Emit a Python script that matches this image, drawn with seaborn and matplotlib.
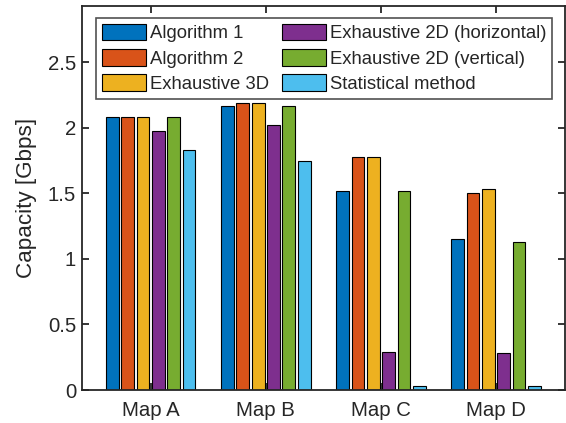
import matplotlib
matplotlib.use("Agg")
import matplotlib.pyplot as plt
import seaborn as sns
import pandas as pd

maps = ["Map A", "Map B", "Map C", "Map D"]
methods = ["Algorithm 1", "Algorithm 2", "Exhaustive 3D",
           "Exhaustive 2D (horizontal)", "Exhaustive 2D (vertical)", "Statistical method"]
algorithm1 = [2.08, 2.17, 1.52, 1.15]
algorithm2 = [2.08, 2.19, 1.78, 1.50]
exhaustive3d = [2.08, 2.19, 1.78, 1.53]
exhaustive2d_h = [1.98, 2.02, 0.29, 0.28]
exhaustive2d_v = [2.08, 2.17, 1.52, 1.13]
statistical = [1.83, 1.75, 0.03, 0.03]
yticks = [0, 0.5, 1, 1.5, 2, 2.5]
ytick_labels = ["0", "0.5", "1", "1.5", "2", "2.5"]

colors = ["#0072BD", "#D95319", "#EDB120", "#7E2F8E", "#77AC30", "#4DBEEE"]

series = [algorithm1, algorithm2, exhaustive3d, exhaustive2d_h, exhaustive2d_v, statistical]
rows = []
for m, vals in zip(methods, series):
    for mp, v in zip(maps, vals):
        rows.append({"Map": mp, "Method": m, "Capacity": v})
df = pd.DataFrame(rows)

sns.set_style("white")
plt.rcParams["font.family"] = ["Liberation Sans", "DejaVu Sans"]

fig = plt.figure(figsize=(5.66, 4.23), dpi=100)
ax = fig.add_axes([81.7 / 566, 33 / 423, (565 - 81.7) / 566, (390 - 6) / 423])

sns.barplot(data=df, x="Map", y="Capacity", hue="Method", hue_order=methods,
            order=maps, palette=colors, width=0.8, gap=0.17, saturation=1,
            edgecolor="black", linewidth=0.8, ax=ax, legend=True)

ax.set_xlim(-0.6, 3.6)
ax.set_ylim(0, 2.93)
ax.set_yticks(yticks)
ax.set_yticklabels(ytick_labels)
ax.set_xlabel("")
ax.set_ylabel("Capacity [Gbps]", fontsize=16.2, color="#262626", labelpad=8)

for s in ax.spines.values():
    s.set_visible(True)
    s.set_color("#262626")
    s.set_linewidth(1.3)
ax.tick_params(axis="both", which="both", direction="in", length=5, width=1.3,
               color="#262626", labelsize=14.7, labelcolor="#262626",
               top=True, right=True, left=True, bottom=True)
ax.tick_params(axis="x", pad=8)
ax.tick_params(axis="y", pad=4)

handles, labels = ax.get_legend_handles_labels()
leg = ax.legend(handles, labels, ncol=2, loc="upper left",
                bbox_to_anchor=(0.0296, 0.969), borderaxespad=0,
                fontsize=13.3, handlelength=2.4, handleheight=1.0,
                handletextpad=0.2, columnspacing=0.7, labelspacing=0.36,
                borderpad=0.32, frameon=True, fancybox=False)
leg.get_frame().set_edgecolor("#262626")
leg.get_frame().set_linewidth(1.2)

fig.savefig("out.png", dpi=100)
